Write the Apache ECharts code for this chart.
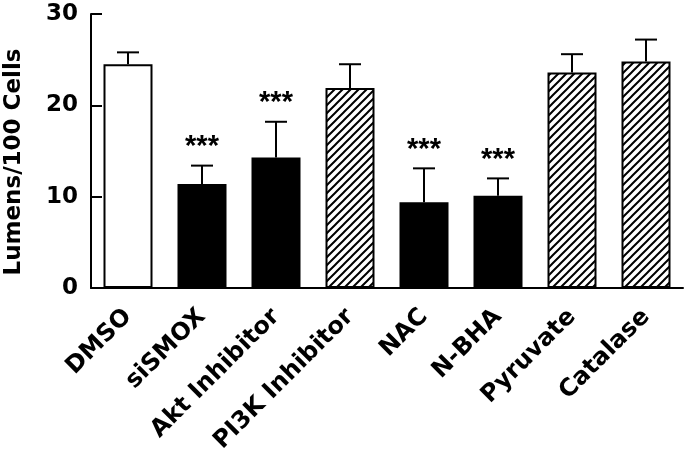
<!DOCTYPE html>
<html>
<head>
<meta charset="utf-8">
<script src="https://cdn.jsdelivr.net/npm/echarts@6/dist/echarts.min.js"></script>
<style>
html,body{margin:0;padding:0;background:#fff;}
#chart{width:685px;height:456px;}
</style>
</head>
<body>
<div id="chart"></div>
<script>
// ---- data ----
const categories = ['DMSO', 'siSMOX', 'Akt Inhibitor', 'PI3K Inhibitor', 'NAC', 'N-BHA', 'Pyruvate', 'Catalase'];
const means      = [24.5, 11.4, 14.3, 21.9, 9.4, 10.1, 23.6, 24.8];
const errUpper   = [25.8, 13.4, 18.2, 24.5, 13.1, 12.0, 25.6, 27.2];
const groups     = ['control', 'significant', 'significant', 'ns', 'significant', 'significant', 'ns', 'ns'];
const sigMarks   = ['', '***', '***', '', '***', '***', '', ''];
const yTicks     = [0, 10, 20, 30];

// ---- styles ----
function hatch() {
  const c = document.createElement('canvas');
  c.width = 8; c.height = 8;
  const g = c.getContext('2d');
  g.fillStyle = '#fff'; g.fillRect(0, 0, 8, 8);
  g.strokeStyle = '#000'; g.lineWidth = 2;
  g.beginPath();
  g.moveTo(-2, 10); g.lineTo(10, -2);
  g.moveTo(-2, 2); g.lineTo(2, -2);
  g.moveTo(6, 10); g.lineTo(10, 6);
  g.stroke();
  return c;
}
const hatchImg = hatch();
const fillFor = {
  control: '#ffffff',
  significant: '#000000',
  ns: { image: hatchImg, repeat: 'repeat' }
};
const FONT = '"DejaVu Sans", "Liberation Sans", Arial, sans-serif';
const STAR_FONT = '"Liberation Sans", Arial, sans-serif';

const chart = echarts.init(document.getElementById('chart'), null, { renderer: 'canvas' });

const barData = means.map((v, i) => ({
  value: v,
  itemStyle: { color: fillFor[groups[i]], borderColor: '#000', borderWidth: 2 }
}));

chart.setOption({
  animation: false,
  backgroundColor: '#fff',
  grid: { left: 91, right: 2, top: 14, bottom: 168, containLabel: false, outerBoundsMode: 'none' },
  xAxis: {
    type: 'category',
    data: categories,
    axisLine: { show: true, lineStyle: { color: '#000', width: 2 } },
    axisTick: { show: false },
    axisLabel: {
      rotate: 45, interval: 0, margin: 25,
      color: '#000', fontFamily: FONT, fontWeight: 'bold', fontSize: 24
    }
  },
  yAxis: {
    type: 'value',
    min: yTicks[0], max: yTicks[yTicks.length - 1], interval: 10,
    name: 'Lumens/100 Cells',
    nameLocation: 'middle',
    nameGap: 65,
    nameTextStyle: { color: '#000', fontFamily: FONT, fontWeight: 'bold', fontSize: 23, padding: [0, 22, 0, 0] },
    axisLine: { show: true, lineStyle: { color: '#000', width: 2 } },
    axisTick: { show: true, inside: true, length: 11, lineStyle: { color: '#000', width: 2 } },
    axisLabel: { color: '#000', fontFamily: FONT, fontWeight: 'bold', fontSize: 23, margin: 13 },
    splitLine: { show: false }
  },
  series: [
    {
      type: 'bar',
      data: barData,
      barWidth: 49,
      z: 2
    },
    {
      type: 'custom',
      z: 3,
      data: categories.map((c, i) => [i, means[i], errUpper[i]]),
      renderItem: function (params, api) {
        const top = api.coord([api.value(0), api.value(2)]);
        const base = api.coord([api.value(0), api.value(1)]);
        const hw = 11;
        return {
          type: 'group',
          children: [
            { type: 'line', shape: { x1: top[0], y1: base[1], x2: top[0], y2: top[1] }, style: { stroke: '#000', lineWidth: 2 } },
            { type: 'line', shape: { x1: top[0] - hw, y1: top[1], x2: top[0] + hw, y2: top[1] }, style: { stroke: '#000', lineWidth: 2 } }
          ]
        };
      }
    },
    {
      type: 'custom',
      z: 4,
      data: categories.map((c, i) => [i, errUpper[i], sigMarks[i]]),
      renderItem: function (params, api) {
        const i = params.dataIndex;
        if (!sigMarks[i]) return null;
        const top = api.coord([api.value(0), api.value(1)]);
        return {
          type: 'text',
          style: {
            x: top[0], y: top[1] - 4,
            text: sigMarks[i],
            fill: '#000',
            font: 'bold 29px ' + STAR_FONT,
            align: 'center', verticalAlign: 'bottom'
          }
        };
      }
    }
  ]
});
</script>
</body>
</html>
